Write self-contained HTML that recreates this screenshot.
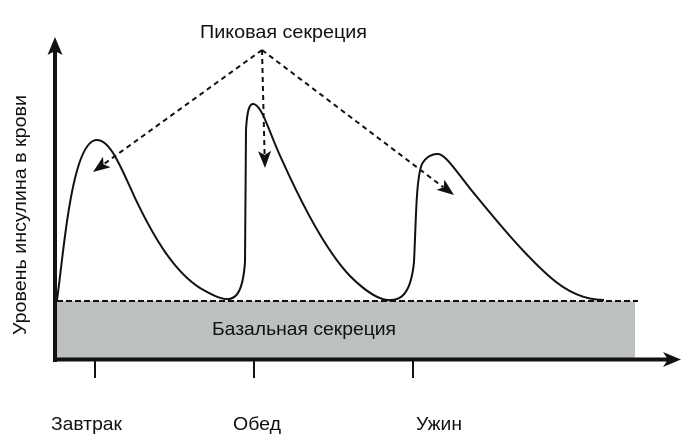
<!DOCTYPE html>
<html>
<head>
<meta charset="utf-8">
<style>
  html,body{margin:0;padding:0;background:#fff;}
  svg{display:block;}
  text{font-family:"Liberation Sans","DejaVu Sans",sans-serif;fill:#111;}
</style>
</head>
<body>
<svg width="688" height="443" viewBox="0 0 688 443" xmlns="http://www.w3.org/2000/svg">
  <rect x="0" y="0" width="688" height="443" fill="#fff"/>
  <!-- basal area -->
  <rect x="57" y="301" width="578" height="57" fill="#bcc0bf"/>
  <line x1="57" y1="301" x2="638" y2="301" stroke="#111" stroke-width="2" stroke-dasharray="6,3"/>
  <text x="212" y="335" font-size="18" textLength="184" lengthAdjust="spacingAndGlyphs">Базальная секреция</text>

  <!-- axes -->
  <rect x="53" y="49" width="4" height="313" fill="#111"/>
  <polygon points="55,37 62.5,55 55,51 47.5,55" fill="#111"/>
  <rect x="53" y="357.5" width="617" height="4" fill="#111"/>
  <polygon points="681,359.5 663,352 668,359.5 663,367" fill="#111"/>

  <!-- ticks -->
  <line x1="95" y1="361" x2="95" y2="378" stroke="#111" stroke-width="2"/>
  <line x1="254" y1="361" x2="254" y2="378" stroke="#111" stroke-width="2"/>
  <line x1="413" y1="361" x2="413" y2="378" stroke="#111" stroke-width="2"/>

  <!-- insulin curve -->
  <path d="M57,300
           C64,250 72,140 97,140
           C110,140 120,165 135,198
           C155,240 175,272 200,288
           C212,295 222,300 229,299
           C237,298 243,290 245,262
           L246,130
           C247,112 249,104 253,104
           C262,104 270,135 282,160
           C300,200 325,250 350,276
           C365,291 380,301 391,300
           C402,300 411,292 414,262
           C416,222 416,178 422,164
           C426,157 431,154 438,154
           C446,154 460,177 477,197
           C500,225 525,255 550,277
           C567,292 585,300 604,300"
        fill="none" stroke="#111" stroke-width="2" stroke-linejoin="round"/>

  <!-- dashed arrows -->
  <g stroke="#111" stroke-width="2" stroke-dasharray="5,4" fill="none">
    <line x1="262" y1="50" x2="104" y2="164"/>
    <line x1="262" y1="50" x2="264.6" y2="155"/>
    <line x1="262" y1="50" x2="443" y2="187"/>
  </g>
  <polygon points="93,172 103.0,156.8 103.5,164.4 110.6,167.3" fill="#111"/>
  <polygon points="265,168 258.1,151.2 264.7,155 271.1,150.8" fill="#111"/>
  <polygon points="454,195 436.5,189.9 443.6,187.2 444.4,179.6" fill="#111"/>

  <text x="200" y="38" font-size="18" textLength="167" lengthAdjust="spacingAndGlyphs">Пиковая секреция</text>

  <!-- x labels -->
  <text x="51" y="430" font-size="18" textLength="71" lengthAdjust="spacingAndGlyphs">Завтрак</text>
  <text x="233" y="430" font-size="18" textLength="48" lengthAdjust="spacingAndGlyphs">Обед</text>
  <text x="416" y="430" font-size="18" textLength="46" lengthAdjust="spacingAndGlyphs">Ужин</text>

  <!-- y label -->
  <text transform="translate(26,335) rotate(-90)" x="0" y="0" font-size="18" textLength="240" lengthAdjust="spacingAndGlyphs">Уровень инсулина в крови</text>
</svg>
</body>
</html>
